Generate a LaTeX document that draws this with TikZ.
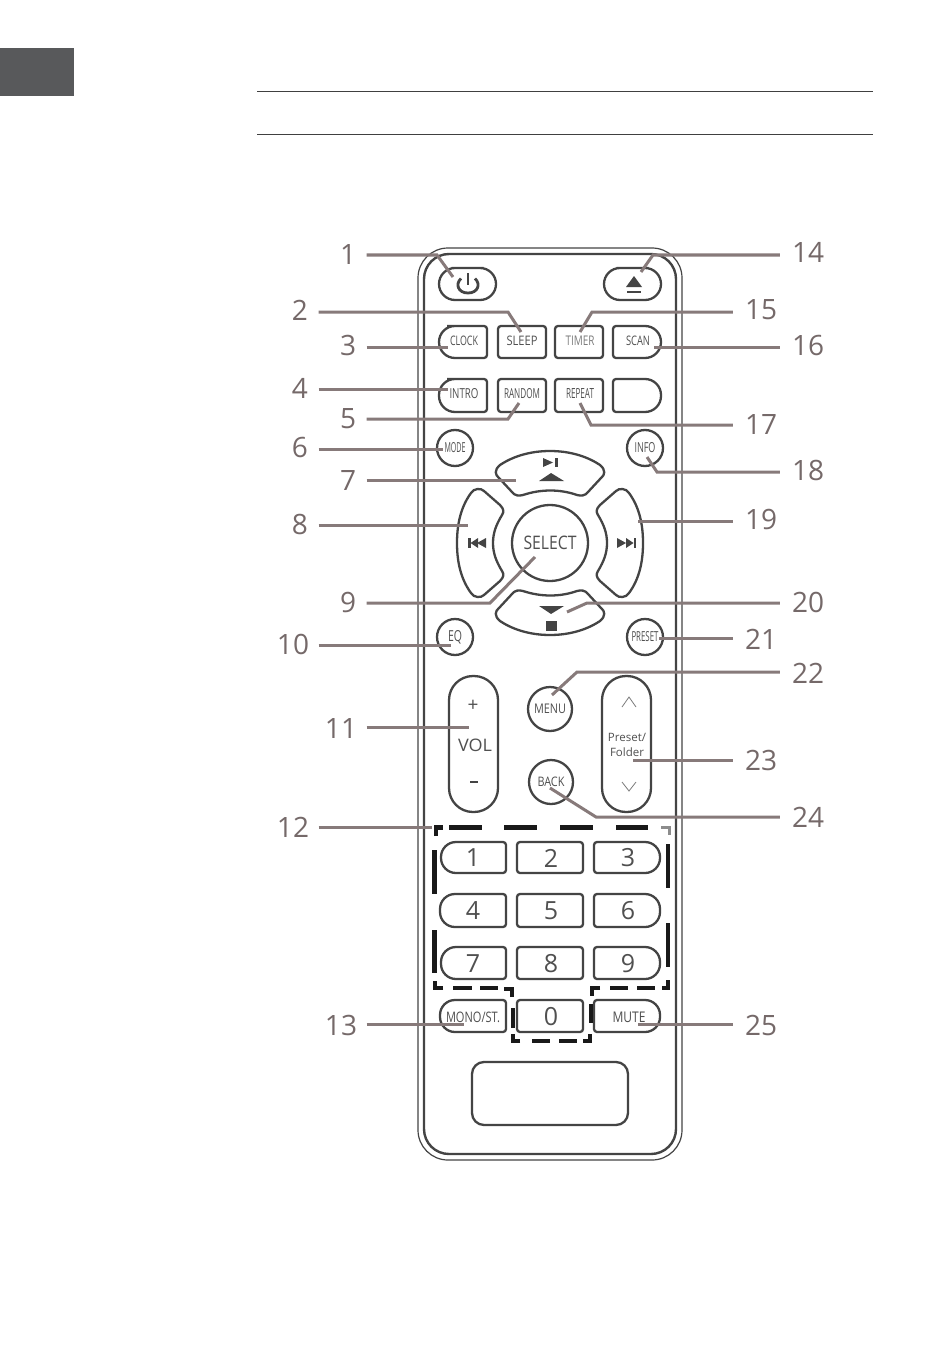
\documentclass[tikz,border=0pt]{standalone}
\usepackage{fontspec}
\usepackage{graphicx}
\setmainfont{Open Sans}
\definecolor{ink}{HTML}{444444}
\definecolor{txt}{HTML}{505050}
\definecolor{lead}{HTML}{877A7A}
\definecolor{labc}{HTML}{756969}
\definecolor{tab}{HTML}{58595B}
\newcommand\rs[3]{\resizebox{#1pt}{#2pt}{#3}}
\newcommand\keybtn[7]{\draw[keyline] ({(#2+#4)/2},#3) [rounded corners=#7pt] -- (#4,#3) -- (#4,#5) [rounded corners=#6pt] -- (#2,#5) -- (#2,#3) [rounded corners=#6pt] -- cycle;
  \coordinate (#1) at ({(#2+#4)/2},{(#3+#5)/2});}
\newcommand\lab[4]{\node[#1] (l#2) at (#3,#4) {#2};}
\newcommand\connL[5]{\coordinate (e#1) at (#2,#3); \coordinate (t#1) at (#4,#5); \draw[leadline] (l#1.east |- e#1) -- (e#1) -- (t#1);}
\newcommand\connR[5]{\coordinate (e#1) at (#2,#3); \coordinate (t#1) at (#4,#5); \draw[leadline] (l#1.west |- e#1) -- (e#1) -- (t#1);}
\newcommand\straightL[3]{\coordinate (t#1) at (#2,#3); \draw[leadline] (l#1.east |- t#1) -- (t#1);}
\newcommand\straightR[3]{\coordinate (t#1) at (#2,#3); \draw[leadline] (l#1.west |- t#1) -- (t#1);}
\newcommand\uppath{(500,465) .. controls (515,455) and (533,451) .. (550,451) .. controls (567,451) and (585,455) .. (600,465)
 .. controls (606,470) and (605,475) .. (601,478) -- (588,492) .. controls (585,496) and (581,496) .. (577,495)
 .. controls (560,489) and (541,489) .. (523,495) .. controls (519,496) and (515,496) .. (512,492)
 -- (499,478) .. controls (495,475) and (494,470) .. (500,465) -- cycle}
\newcommand\leftpath{(471,493) .. controls (474,488) and (481,488) .. (484,491) -- (500,505) .. controls (504,509) and (504,512) .. (502,515)
 .. controls (496,525) and (493,533) .. (493,543) .. controls (493,553) and (496,561) .. (502,571) .. controls (504,574) and (504,577) .. (500,581)
 -- (484,595) .. controls (481,598) and (474,598) .. (471,593) .. controls (460,578) and (457,560) .. (457,543) .. controls (457,526) and (460,508) .. (471,493) -- cycle}
\begin{document}
\begin{tikzpicture}[x=1pt,y=-1pt,
  keyline/.style={draw=ink,line width=2.3pt},
  roundkey/.style={circle,draw=ink,line width=2.3pt,inner sep=0pt,text=txt},
  ktext/.style={inner sep=0pt,text=txt},
  digit/.style={inner sep=0pt,text=txt,font=\fontsize{25}{25}\selectfont},
  leadline/.style={draw=lead,line width=3pt,line join=miter},
  labbase/.style={inner sep=0pt,text=labc,font=\fontsize{28}{28}\selectfont,text height=20pt,text depth=0pt},
  labS/.style={labbase,minimum width=37pt,align=center},
  labT/.style={labbase,minimum width=51pt,align=center},
  labR/.style={labbase,minimum width=56pt,align=center},
  bold dash/.style={draw=black!90,line width=4.6pt},
  rule/.style={draw=black!75,line width=0.8pt},
  icon/.style={fill=ink,draw=none},
  thin chevron/.style={draw=ink!70,line width=0.8pt}]
\useasboundingbox (0,0) rectangle (950,1348);
\fill[white] (0,0) rectangle (950,1348);
% page furniture
\fill[tab] (0,48) rectangle (74,96);
\coordinate (ra) at (257,91); \coordinate (rb) at (873,91);
\coordinate (rc) at (257,134); \coordinate (rd) at (873,134);
\draw[rule] (ra) -- (rb);
\draw[rule] (rc) -- (rd);
% body
\draw[draw=ink,line width=1.2pt,rounded corners=30pt] (418,248) rectangle (682,1160);
\draw[draw=ink,line width=2.4pt,rounded corners=25pt] (424,254) rectangle (676,1154);
% top keys
\keybtn{power}{439}{268}{496}{300}{16}{16}
\keybtn{eject}{604}{268}{661}{300}{16}{16}
\draw[ink,line width=2.8pt] (461,278.5) .. controls (455,284) and (458,293) .. (468,293) .. controls (478,293) and (481,284) .. (475,278.5);
\draw[ink,line width=2.8pt] (468,273) -- (468,285);
\fill[icon] (634,276) -- (642,287) -- (626,287) -- cycle;
\fill[icon] (627,291) rectangle (641,293);
% row 2
\keybtn{clock}{439}{326}{487}{358}{16}{3}
\keybtn{sleep}{498}{326}{546}{358}{3}{3}
\keybtn{timer}{555}{326}{603}{358}{3}{3}
\keybtn{scan}{613}{326}{661}{358}{3}{16}
\node[ktext] (tclock) at (464,341) {\rs{28}{9.5}{CLOCK}};
\node[ktext] (tsleep) at (522,341) {\rs{31}{9.5}{SLEEP}};
\node[ktext,text=txt!75] (ttimer) at (580,341) {\rs{29}{9.5}{TIMER}};
\node[ktext] (tscan) at (638,341) {\rs{24}{9.5}{SCAN}};
% row 3
\keybtn{intro}{439}{379}{487}{412}{16}{3}
\keybtn{random}{498}{379}{546}{412}{3}{3}
\keybtn{repeat}{555}{379}{603}{412}{3}{3}
\keybtn{blank}{613}{379}{661}{412}{3}{16}
\node[ktext] (tintro) at (464,393.5) {\rs{29}{10}{INTRO}};
\node[ktext] (trandom) at (522,393.5) {\rs{36}{10}{RANDOM}};
\node[ktext] (trepeat) at (580,393.5) {\rs{28}{10}{REPEAT}};
% small circles
\node[roundkey,minimum size=36pt] (mode) at (455,448) {\rs{21}{10}{MODE}};
\node[roundkey,minimum size=36pt] (info) at (645,448) {\rs{21}{10}{INFO}};
\node[roundkey,minimum size=36pt] (eq) at (455,637) {\rs{14}{11}{EQ}};
\node[roundkey,minimum size=36pt] (preset) at (645,637) {\rs{27}{10}{PRESET}};
% navigation cluster
\draw[keyline] \uppath;
\begin{scope}[shift={(0,1086)},yscale=-1]
  \draw[keyline] \uppath;
\end{scope}
\draw[keyline] \leftpath;
\begin{scope}[shift={(1100,0)},xscale=-1]
  \draw[keyline] \leftpath;
\end{scope}
\node[roundkey,minimum size=76pt] (select) at (550,543) {\rs{53}{13.5}{SELECT}};
% nav icons
\fill[icon] (543,458) -- (553,462.5) -- (543,467) -- cycle;
\fill[icon] (555,458) rectangle (558,467);
\fill[icon] (551,473) -- (564,481) -- (539,481) -- cycle;
\fill[icon] (539,606) -- (564,606) -- (551,614) -- cycle;
\fill[icon] (546,621) rectangle (557,631);
\fill[icon] (468,538) rectangle (470.5,548);
\fill[icon] (478,538) -- (478,548) -- (470.5,543) -- cycle;
\fill[icon] (486,538) -- (486,548) -- (477,543) -- cycle;
\fill[icon] (633.5,538) rectangle (636,548);
\fill[icon] (626,538) -- (626,548) -- (633.5,543) -- cycle;
\fill[icon] (617,538) -- (617,548) -- (626,543) -- cycle;
% volume and preset
\draw[keyline,rounded corners=24pt] (449,676) rectangle (498,812);
\draw[keyline,rounded corners=24pt] (602,676) rectangle (651,812);
\coordinate (vol) at (473,744);
\coordinate (pf) at (627,744);
\node[ktext,font=\fontsize{19}{19}\selectfont] (vplus) at (473,706) {+};
\node[ktext] (vtext) at (475,745) {\rs{34}{12.5}{VOL}};
\fill[icon] (470,780.5) rectangle (478,782.5);
\node[ktext,font=\fontsize{11.5}{11.5}\selectfont] (pf1) at (627,737) {Preset/};
\node[ktext,font=\fontsize{11.5}{11.5}\selectfont] (pf2) at (627,752.5) {Folder};
\draw[thin chevron] (622,707) -- (629,697) -- (636,707);
\draw[thin chevron] (622,782) -- (629,791) -- (636,782);
\node[roundkey,minimum size=44pt] (menu) at (550,709) {\rs{32}{9.5}{MENU}};
\node[roundkey,minimum size=44pt] (back) at (551,782) {\rs{27}{9.5}{BACK}};
% number pad
\keybtn{k1}{441}{842}{506}{873}{15}{3}
\keybtn{k2}{517}{842}{583}{873}{3}{3}
\keybtn{k3}{594}{842}{660}{873}{3}{15}
\keybtn{k4}{440}{894}{506}{927}{15}{3}
\keybtn{k5}{517}{894}{583}{927}{3}{3}
\keybtn{k6}{594}{894}{660}{927}{3}{15}
\keybtn{k7}{441}{947}{506}{979}{15}{3}
\keybtn{k8}{517}{947}{583}{979}{3}{3}
\keybtn{k9}{594}{947}{660}{979}{3}{15}
\keybtn{kmono}{440}{1000}{506}{1032}{15}{3}
\keybtn{k0}{517}{1000}{583}{1032}{3}{3}
\keybtn{kmute}{594}{1000}{660}{1032}{3}{15}
\node[digit] (d1) at (473,858) {1};
\node[digit] (d2) at (551,858) {2};
\node[digit] (d3) at (628,858) {3};
\node[digit] (d4) at (473,911) {4};
\node[digit] (d5) at (551,911) {5};
\node[digit] (d6) at (628,911) {6};
\node[digit] (d7) at (473,964) {7};
\node[digit] (d8) at (551,964) {8};
\node[digit] (d9) at (628,964) {9};
\node[digit] (d0) at (551,1017) {0};
\node[ktext] (tmono) at (473,1017) {\rs{54}{10.5}{MONO/ST.}};
\node[ktext] (tmute) at (629,1017) {\rs{33}{10.5}{MUTE}};
\draw[draw=ink,line width=2.3pt,rounded corners=12pt] (472,1062) rectangle (628,1125);
% dashed outline pieces
\draw[bold dash] (436,836) -- (436,827.5) -- (443,827.5);
\foreach \a/\b in {449/482,504/537,560/593,616/648} \draw[bold dash] (\a,827.5) -- (\b,827.5);
\draw[draw=black!45,line width=3pt] (661,827) -- (669,827) -- (669,835);
\draw[bold dash] (668,844) -- (668,888);
\draw[bold dash] (668,923) -- (668,967);
\draw[bold dash] (668,980) -- (668,988) -- (662,988);
\draw[bold dash] (637,988) -- (655,988);
\draw[bold dash] (610,988) -- (628,988);
\draw[bold dash] (600,988) -- (592,988) -- (592,996);
\draw[bold dash] (591,1004) -- (591,1023);
\draw[bold dash] (590,1034) -- (590,1041) -- (583,1041);
\draw[bold dash] (559,1041) -- (577,1041);
\draw[bold dash] (532,1041) -- (550,1041);
\draw[bold dash] (520,1041) -- (513,1041) -- (513,1034);
\draw[bold dash] (513,1008) -- (513,1028);
\draw[bold dash] (512,997) -- (512,989) -- (504,989);
\draw[bold dash] (480,988) -- (498,988);
\draw[bold dash] (453,988) -- (472,988);
\draw[bold dash] (443,988) -- (435,988) -- (435,981);
\draw[bold dash] (434.5,850) -- (434.5,894);
\draw[bold dash] (434.5,930) -- (434.5,973);
% numbered labels
\lab{labS}{1}{348}{254}
\lab{labS}{2}{300}{310}
\lab{labS}{3}{348}{345}
\lab{labS}{4}{300}{388}
\lab{labS}{5}{348}{418}
\lab{labS}{6}{300}{447}
\lab{labS}{7}{348}{480}
\lab{labS}{8}{300}{524}
\lab{labS}{9}{348}{602}
\lab{labT}{10}{293}{644}
\lab{labT}{11}{341}{728}
\lab{labT}{12}{293}{827}
\lab{labT}{13}{341}{1025}
\lab{labR}{14}{808}{252}
\lab{labR}{15}{761}{309}
\lab{labR}{16}{808}{345}
\lab{labR}{17}{761}{424}
\lab{labR}{18}{808}{470}
\lab{labR}{19}{761}{519}
\lab{labR}{20}{808}{602}
\lab{labR}{21}{761}{639}
\lab{labR}{22}{808}{673}
\lab{labR}{23}{761}{760}
\lab{labR}{24}{808}{817}
\lab{labR}{25}{761}{1025}
% leaders
\connL{1}{437}{255}{453}{277}
\connL{2}{508}{312}{521}{332}
\straightL{3}{448}{347}
\straightL{4}{448}{389}
\connL{5}{508}{419}{519}{403}
\straightL{6}{443}{449}
\straightL{7}{516}{480}
\straightL{8}{468}{525}
\connL{9}{490}{603}{535}{557}
\straightL{10}{451}{645}
\straightL{11}{469}{727}
\straightL{12}{432}{827}
\straightL{13}{464}{1024}
\connR{14}{653}{255}{641}{272}
\connR{15}{592}{312}{580}{332}
\straightR{16}{654}{347}
\connR{17}{591}{425}{580}{403}
\connR{18}{657}{472}{647}{457}
\straightR{19}{638}{521}
\connR{20}{587}{603}{567}{612}
\straightR{21}{659}{638}
\connR{22}{577}{672}{552}{695}
\straightR{23}{633}{760}
\connR{24}{596}{817}{550}{788}
\straightR{25}{638}{1024}
\end{tikzpicture}
\end{document}
